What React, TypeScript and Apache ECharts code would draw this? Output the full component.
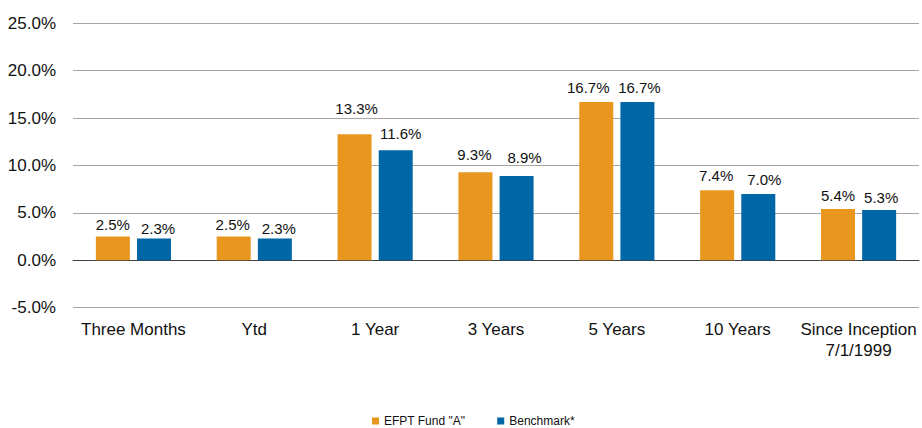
import React, { useEffect, useRef } from "react";
import * as echarts from "echarts";

const categories = ["Three Months", "Ytd", "1 Year", "3 Years", "5 Years", "10 Years", "Since Inception\n7/1/1999"];
const fundValues = [2.5, 2.5, 13.3, 9.3, 16.7, 7.4, 5.4];
const benchmarkValues = [2.3, 2.3, 11.6, 8.9, 16.7, 7.0, 5.3];
const seriesNames = ['EFPT Fund "A"', "Benchmark*"];

// small per-label nudges (px) so data labels sit as in the reference layout
const fundLabelNudge = [[0, 0], [-1, 0], [2, -13], [-1, -5], [-8, -2], [-1, -2], [0, -1]];
const benchLabelNudge = [[4, 3], [4, 3], [5, -4], [8, -6], [2, -2], [6, -2], [2, 0]];

export default function App() {
  const ref = useRef<HTMLDivElement>(null);
  useEffect(() => {
    if (!ref.current) return;
    const chart = echarts.init(ref.current, undefined, { renderer: "svg" });
    const font = "Arial, 'Liberation Sans', sans-serif";
    const labelOpt = {
      show: true,
      position: "top",
      distance: 5,
      formatter: (p: any) => p.value.toFixed(1) + "%",
      fontSize: 15,
      color: "#111",
      fontFamily: font,
    };
    const withNudge = (vals: number[], nudge: number[][]) =>
      vals.map((v, i) => ({ value: v, label: { offset: nudge[i] } }));
    chart.setOption({
      animation: false,
      backgroundColor: "#fff",
      grid: { left: 73, right: 3, top: 23.3, bottom: 120.3, containLabel: false },
      legend: {
        left: 372,
        top: 415,
        padding: 0,
        icon: "rect",
        itemWidth: 7,
        itemHeight: 7,
        itemGap: 32,
        textStyle: { fontSize: 12, color: "#111", fontFamily: font },
        data: seriesNames,
      },
      xAxis: {
        type: "category",
        data: categories,
        axisLine: { onZero: true, lineStyle: { color: "#404040", width: 1 } },
        axisTick: { show: false },
        axisLabel: {
          interval: 0,
          fontSize: 17,
          color: "#111",
          fontFamily: font,
          margin: 11,
          lineHeight: 21,
        },
      },
      yAxis: {
        type: "value",
        min: -5,
        max: 25,
        interval: 5,
        axisLine: { show: false },
        axisTick: { show: false },
        splitLine: { lineStyle: { color: "#a6a6a6", width: 1 } },
        axisLabel: {
          formatter: (v: number) => v.toFixed(1) + "%",
          fontSize: 17,
          color: "#111",
          fontFamily: font,
          margin: 17,
        },
      },
      series: [
        {
          name: seriesNames[0],
          type: "bar",
          data: withNudge(fundValues, fundLabelNudge),
          barWidth: 34,
          barGap: "21%",
          itemStyle: { color: "#E8961E" },
          label: labelOpt,
        },
        {
          name: seriesNames[1],
          type: "bar",
          data: withNudge(benchmarkValues, benchLabelNudge),
          barWidth: 34,
          itemStyle: { color: "#0067A6" },
          label: labelOpt,
        },
      ],
    });
    return () => chart.dispose();
  }, []);
  return (
    <div
      ref={ref}
      style={{ position: "fixed", left: 0, top: 0, width: 922, height: 428 }}
    />
  );
}
